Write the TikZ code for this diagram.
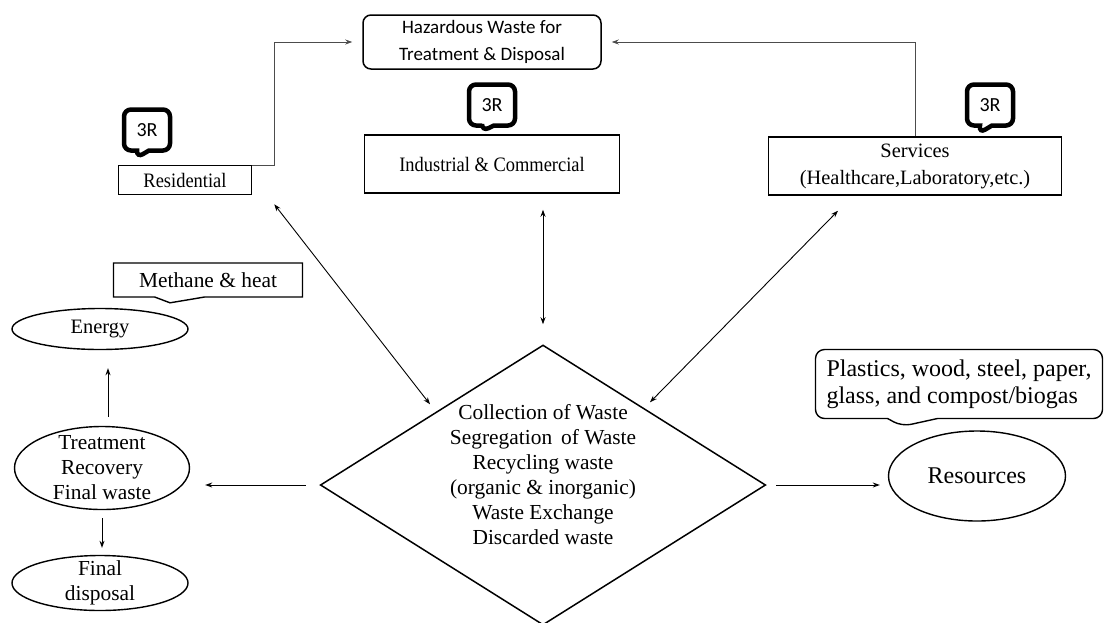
\documentclass[tikz,border=0pt]{standalone}
\usepackage{fontspec}
\setmainfont{Liberation Serif}
\newfontfamily\narrowserif[FakeStretch=0.9]{Liberation Serif}
\newfontfamily\calibri{Carlito}
\usetikzlibrary{shapes.geometric,shapes.callouts,arrows.meta}

\begin{document}
\begin{tikzpicture}[x=1pt, y=-1pt, font=\fontsize{18.5}{25}\selectfont,
  >={Stealth[length=7pt,width=5pt]},
  srcbox/.style={draw, line width=1.5pt, inner sep=2pt, align=center},
  blob/.style={draw, ellipse, line width=1.4pt, inner xsep=0pt, inner ysep=0pt, align=center,
    font=\fontsize{21.4}{25}\selectfont},
  tag/.style={draw, rectangle callout, line width=4.5pt, rounded corners=7pt,
    font=\calibri\fontsize{20}{22}\selectfont, minimum width=46pt, minimum height=41pt,
    callout pointer width=12pt, inner sep=0pt},
  note/.style={draw, rectangle callout, line width=1.4pt, callout pointer width=50pt, inner sep=2pt},
  link/.style={->, line width=0.8pt, draw=black!70},
  both/.style={<->, line width=0.9pt}]

  \useasboundingbox (0,0) rectangle (1105,622);

  % Sources of waste
  \node[srcbox, minimum width=133pt, minimum height=29pt, font=\narrowserif\fontsize{20.5}{25}\selectfont]
    (res) at (185,180) {Residential};
  \node[srcbox, minimum width=255pt, minimum height=58pt, font=\narrowserif\fontsize{20.5}{25}\selectfont]
    (ind) at (492,164) {Industrial \& Commercial};
  \node[srcbox, minimum width=293pt, minimum height=58pt, font=\fontsize{20.4}{27}\selectfont]
    (serv) at (915,166) {Services\\(Healthcare,Laboratory,etc.)};

  % Hazardous part
  \node[draw, line width=1.5pt, rounded corners=8pt, align=center, minimum width=238pt,
    minimum height=54pt, inner sep=2pt, font=\calibri\fontsize{19}{27}\selectfont]
    (haz) at (482,42) {Hazardous Waste for\\Treatment \& Disposal};

  % 3R tags
  \node[tag, callout absolute pointer={([xshift=19pt,yshift=7pt]res.north west)}] (tagres) at (147,130) {3R};
  \node[tag, callout absolute pointer={([xshift=-10pt,yshift=3pt]ind.north)}] (tagind) at (492,105) {3R};
  \node[tag, callout absolute pointer={([xshift=64pt,yshift=3pt]serv.north)}] (tagserv) at (990,105) {3R};

  % Central process
  \node[draw, diamond, aspect=1.6, minimum width=445pt, minimum height=280pt, inner sep=0pt,
    line width=1.5pt, align=center, font=\fontsize{21.4}{25}\selectfont] (coll) at (543,485)
    {Collection of Waste\\Segregation\, of Waste\\Recycling waste\\(organic \& inorganic)\\Waste Exchange\\Discarded waste\\[-3pt]\mbox{}};

  % Left branch
  \node[blob, inner ysep=-6pt, minimum width=175pt, minimum height=83pt] (treat) at (102,468)
    {Treatment\\Recovery\\Final waste};
  \node[blob, font=\fontsize{20.5}{25}\selectfont, minimum width=176pt, minimum height=41pt]
    (energy) at (100,329) {Energy};
  \node[blob, inner ysep=-4pt, minimum width=176pt, minimum height=55pt] (fin) at (100,583)
    {Final\\disposal};
  \node[note, minimum width=189pt, minimum height=34pt, font=\fontsize{21.4}{25}\selectfont,
    callout absolute pointer={([xshift=70pt,yshift=5pt]energy.north)}] (meth) at (208,280) {Methane \& heat};

  % Right branch
  \node[blob, font=\fontsize{24}{27}\selectfont, minimum width=177pt, minimum height=90pt]
    (rsrc) at (977,476) {Resources};
  \node[note, rounded corners=9pt, align=left, minimum width=287pt, minimum height=69pt,
    font=\fontsize{24}{27}\selectfont,
    callout absolute pointer={([xshift=-75pt,yshift=4pt]rsrc.north)}] (mat) at (959,384)
    {Plastics, wood, steel, paper,\\glass, and compost/biogas};

  % Arrows to hazardous waste
  \draw[link, shorten >=10pt] ([yshift=-1pt]res.north east) -- ++(22,0) |- (haz.west);
  \draw[link, shorten >=10pt] (serv.north) |- (haz.east);

  % Two-way arrows to the centre
  \draw[both] ([xshift=22pt,yshift=-9pt]res.south east) -- ([xshift=-113pt,yshift=-60pt]coll.north);
  \draw[both] ([yshift=-16pt]ind.south -| coll.north) -- ([yshift=20pt]coll.north);
  \draw[both] ([xshift=-77pt,yshift=-15pt]serv.south) -- ([xshift=107pt,yshift=-58pt]coll.north);

  % Outputs
  \draw[->, line width=0.9pt, shorten >=15pt] ([xshift=-14pt]coll.west) -- (coll.west -| treat.east);
  \draw[->, line width=0.9pt, shorten >=8pt] ([xshift=10pt]coll.east) -- (coll.east -| rsrc.west);
  \draw[->, line width=0.9pt, shorten <=9pt, shorten >=18pt] ([xshift=6pt]treat.north) -- ([xshift=6pt]treat.north |- energy.south);
  \draw[->, line width=0.9pt, shorten <=8pt, shorten >=7pt] (treat.south) -- (treat.south |- fin.north);
\end{tikzpicture}
\end{document}
